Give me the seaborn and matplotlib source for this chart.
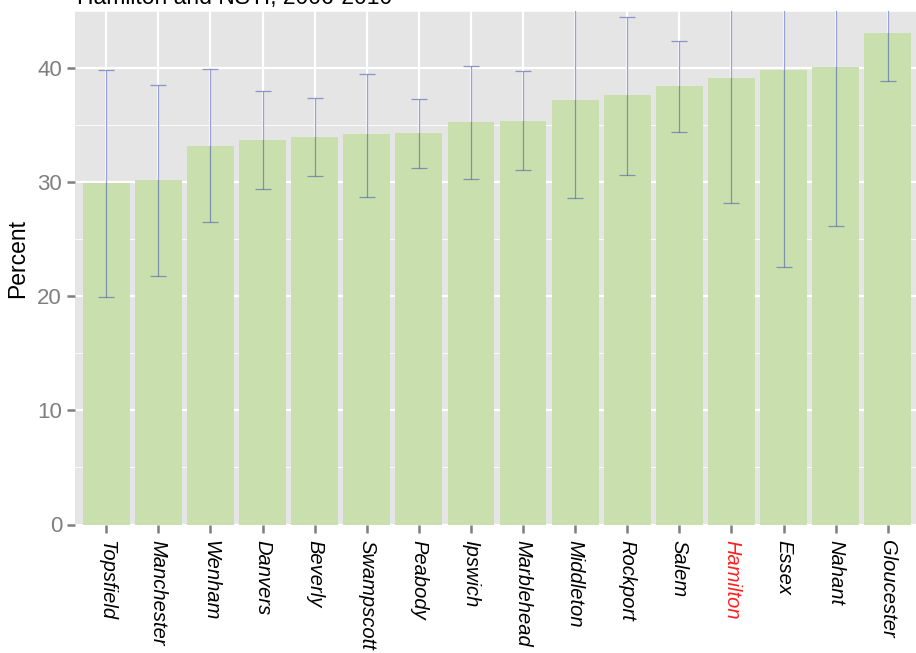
import matplotlib
matplotlib.use("Agg")
import matplotlib.pyplot as plt
from matplotlib.ticker import MultipleLocator
import seaborn as sns
import pandas as pd

towns = ["Topsfield", "Manchester", "Wenham", "Danvers", "Beverly", "Swampscott",
         "Peabody", "Ipswich", "Marblehead", "Middleton", "Rockport", "Salem",
         "Hamilton", "Essex", "Nahant", "Gloucester"]
percent = [29.9, 30.2, 33.2, 33.7, 34.0, 34.2, 34.3, 35.3, 35.4, 37.2, 37.6, 38.4,
           39.1, 39.8, 40.1, 43.1]
lower = [19.9, 21.8, 26.5, 29.4, 30.5, 28.7, 31.2, 30.3, 31.1, 28.6, 30.6, 34.4,
         28.2, 22.6, 26.2, 38.9]
upper = [39.8, 38.5, 39.9, 38.0, 37.4, 39.5, 37.3, 40.2, 39.7, 45.9, 44.5, 42.4,
         50.0, 57.0, 54.0, 47.3]
yticks = [0, 10, 20, 30, 40]
title = "Hamilton and NSTI, 2006-2010"
highlight = "Hamilton"

df = pd.DataFrame({"town": towns, "percent": percent, "lower": lower, "upper": upper})

sns.set_theme(style="white")
plt.rcParams["font.family"] = ["Liberation Sans", "DejaVu Sans"]

W, H = 916, 653
fig = plt.figure(figsize=(W / 100, H / 100), dpi=100)
ax = fig.add_axes([75 / W, (H - 524.5) / H, 844 / W, (524.5 - 11) / H])
ax.set_facecolor("#E5E5E5")

sns.barplot(data=df, x="town", y="percent", order=towns, color="#C9E0AE",
            saturation=1, width=0.9, errorbar=None, ax=ax, zorder=2,
            linewidth=0, edgecolor="none")

xs = list(range(len(towns)))
err_lo = [p - l for p, l in zip(percent, lower)]
err_hi = [u - p for p, u in zip(percent, upper)]
ax.errorbar(xs, percent, yerr=[err_lo, err_hi], fmt="none", ecolor="#3545A8",
            alpha=0.5, elinewidth=0.9, capsize=6, capthick=0.9, zorder=3)

ax.set_xlim(-0.6, len(towns) - 1 + 0.6)
ax.set_ylim(0, 45)
ax.set_yticks(yticks)
ax.yaxis.set_minor_locator(MultipleLocator(5))
ax.set_axisbelow(True)
ax.grid(which="major", axis="both", color="white", linewidth=1.6)
ax.grid(which="minor", axis="y", color="white", linewidth=0.6)
for s in ax.spines.values():
    s.set_visible(False)

ax.tick_params(axis="both", which="major", length=5.8, width=1.8, color="#7F7F7F",
               bottom=True, left=True)
ax.tick_params(axis="y", which="major", labelsize=16, labelcolor="#7F7F7F", pad=3.5)
ax.tick_params(axis="y", which="minor", length=0)
ax.tick_params(axis="x", which="major", labelsize=14.5, labelcolor="black", pad=5.5)

ax.set_xticks(xs)
ax.set_xticklabels(towns, rotation=-90, ha="center", va="top", style="italic")
for lab in ax.get_xticklabels():
    if lab.get_text() == highlight:
        lab.set_color("#FF2020")

ax.set_xlabel("")
ax.set_ylabel("Percent", fontsize=16.5, color="black")
ax.yaxis.set_label_coords(-0.054, 0.518)

fig.text(77 / W, 1 - 4 / H, title, fontsize=16.5, ha="left", va="baseline", color="black")

fig.savefig("out.png", dpi=100)
